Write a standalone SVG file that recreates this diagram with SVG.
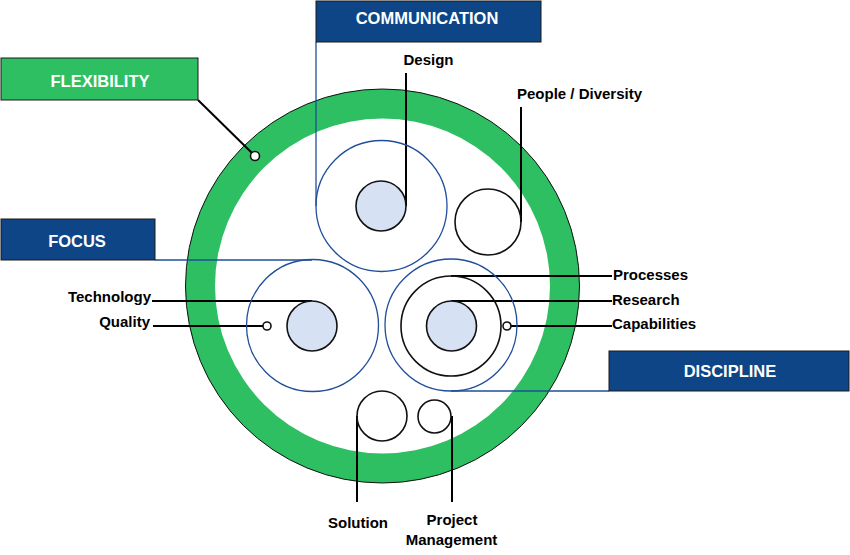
<svg xmlns="http://www.w3.org/2000/svg" width="850" height="555" viewBox="0 0 850 555">
<style>
.lbl{font-family:"Liberation Sans",Arial,sans-serif;font-weight:bold;font-size:15px;fill:#000}
.box{font-family:"Liberation Sans",Arial,sans-serif;font-weight:bold;font-size:16.5px;fill:#fff;text-anchor:middle}
.bluebox{fill:#0d4586;stroke:#1a1a1a;stroke-width:1}
.greenbox{fill:#2dbf62;stroke:#1a1a1a;stroke-width:1}
.ring{fill:none;stroke:#1f4e9a;stroke-width:1.3}
.core{fill:#d6e1f4;stroke:#111;stroke-width:1.6}
.wire{fill:#fff;stroke:#111;stroke-width:1.6}
.hollow{fill:none;stroke:#111;stroke-width:1.6}
.lead{fill:none;stroke:#000;stroke-width:2}
.bl{fill:none;stroke:#1f4e9a;stroke-width:1.3}
</style>
<rect width="850" height="555" fill="#fff"/>
<g id="jacket">
<circle cx="382.5" cy="286" r="197" fill="#2dbf62" stroke="#111" stroke-width="1"/>
<circle cx="382.5" cy="286" r="167.5" fill="#fff"/>
</g>
<g id="connectors">
<path class="bl" d="M316 42 V206"/>
<path class="bl" d="M155 260 H312"/>
<path class="bl" d="M451 391 H609"/>
<path class="lead" d="M198 100 L252 153"/>
<path class="lead" d="M406 73 V206"/>
<path class="lead" d="M521 107 V222"/>
<path class="lead" d="M152 301 H312"/>
<path class="lead" d="M153 326 H263"/>
<path class="lead" d="M451 276 H612"/>
<path class="lead" d="M451 301 H612"/>
<path class="lead" d="M511 326 H612"/>
<path class="lead" d="M357 416 V502"/>
<path class="lead" d="M452 416 V502"/>
</g>
<g id="communication">
<circle class="ring" cx="381.5" cy="206" r="65.5"/>
<circle class="core" cx="381" cy="206" r="25"/>
</g>
<g id="people">
<circle class="hollow" cx="488" cy="222" r="33"/>
</g>
<g id="focus">
<circle class="ring" cx="312.5" cy="325.5" r="66"/>
<circle class="core" cx="312" cy="326" r="25"/>
<circle class="wire" cx="267" cy="326" r="4"/>
</g>
<g id="discipline">
<circle class="ring" cx="451" cy="325" r="66"/>
<circle class="hollow" cx="451" cy="326" r="50"/>
<circle class="core" cx="451.5" cy="326" r="25"/>
<circle class="wire" cx="507" cy="326" r="4"/>
</g>
<g id="solution">
<circle class="hollow" cx="382" cy="416" r="25"/>
</g>
<g id="project">
<circle class="hollow" cx="434.5" cy="416.5" r="16.5"/>
</g>
<g id="flexibility-point">
<circle class="wire" cx="255" cy="156" r="4.5"/>
</g>
<g id="box-communication">
<rect class="bluebox" x="316" y="1" width="225" height="41"/>
<text class="box" x="427" y="23.5">COMMUNICATION</text>
</g>
<g id="box-flexibility">
<rect class="greenbox" x="1" y="58" width="197" height="42"/>
<text class="box" x="100" y="86.5">FLEXIBILITY</text>
</g>
<g id="box-focus">
<rect class="bluebox" x="1" y="219" width="154" height="41"/>
<text class="box" x="77" y="247">FOCUS</text>
</g>
<g id="box-discipline">
<rect class="bluebox" x="609" y="351" width="240" height="40"/>
<text class="box" x="730" y="377">DISCIPLINE</text>
</g>
<g id="labels">
<text class="lbl" x="428.5" y="64.5" text-anchor="middle">Design</text>
<text class="lbl" x="517" y="98.5">People / Diversity</text>
<text class="lbl" x="151" y="302" text-anchor="end">Technology</text>
<text class="lbl" x="150" y="327" text-anchor="end">Quality</text>
<text class="lbl" x="613" y="280">Processes</text>
<text class="lbl" x="612" y="305">Research</text>
<text class="lbl" x="612" y="328.5">Capabilities</text>
<text class="lbl" x="358" y="528" text-anchor="middle">Solution</text>
<text class="lbl" x="452" y="524.5" text-anchor="middle">Project</text>
<text class="lbl" x="451.5" y="544.5" text-anchor="middle">Management</text>
</g>
</svg>
